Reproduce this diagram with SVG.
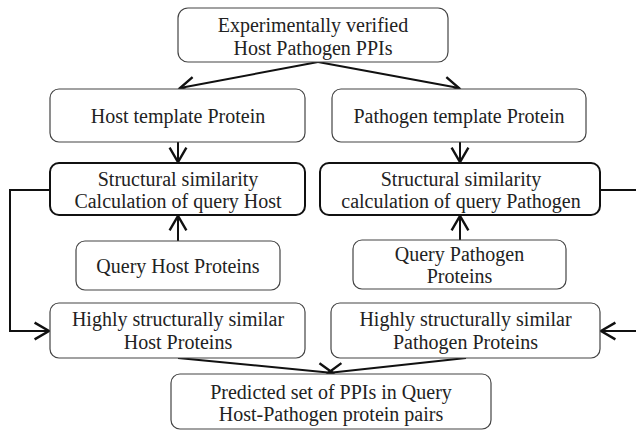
<svg xmlns="http://www.w3.org/2000/svg" width="636" height="431" viewBox="0 0 636 431">
<defs>
<style>
.box{fill:#fff;stroke:#444;stroke-width:1.2}
.bold{fill:#fff;stroke:#111;stroke-width:2}
.t{font-family:"Liberation Serif","Times New Roman",serif;font-size:20px;fill:#222;text-anchor:middle}
.c{fill:none;stroke:#111;stroke-width:2}
</style>
<marker id="ah" markerUnits="userSpaceOnUse" markerWidth="24" markerHeight="24" viewBox="-14 -10 16 20" refX="0" refY="0" orient="auto">
<path d="M-12,-7 L0,0 L-12,7" fill="none" stroke="#111" stroke-width="2"/>
</marker>
</defs>
<rect width="636" height="431" fill="#fff"/>
<g id="connectors">
<line class="c" x1="318" y1="62" x2="180" y2="88" marker-end="url(#ah)"/>
<line class="c" x1="318" y1="62" x2="459" y2="88" marker-end="url(#ah)"/>
<line class="c" x1="178" y1="142" x2="178" y2="162" marker-end="url(#ah)"/>
<line class="c" x1="460" y1="142" x2="460" y2="162" marker-end="url(#ah)"/>
<line class="c" x1="178" y1="241" x2="178" y2="216" marker-end="url(#ah)"/>
<line class="c" x1="460" y1="240" x2="460" y2="216" marker-end="url(#ah)"/>
<path class="c" d="M50,190 H10 V331 H49" marker-end="url(#ah)"/>
<path class="c" d="M600,190 H645 V331 H601" marker-end="url(#ah)"/>
<line class="c" x1="178" y1="358" x2="333" y2="373" marker-end="url(#ah)"/>
<line class="c" x1="466" y1="358" x2="328" y2="373" marker-end="url(#ah)"/>
</g>
<g id="n-top">
<rect class="box" x="178" y="8" width="270" height="54" rx="10"/>
<text class="t" x="313" y="32">Experimentally verified</text>
<text class="t" x="313" y="55">Host Pathogen PPIs</text>
</g>
<g id="n-host-template">
<rect class="box" x="50" y="89" width="255" height="53" rx="9"/>
<text class="t" x="178" y="123">Host template Protein</text>
</g>
<g id="n-pathogen-template">
<rect class="box" x="332" y="89" width="254" height="53" rx="9"/>
<text class="t" x="459" y="123">Pathogen template Protein</text>
</g>
<g id="n-struct-host">
<rect class="bold" x="50" y="163" width="255" height="52" rx="9"/>
<text class="t" x="178" y="186">Structural similarity</text>
<text class="t" x="178" y="208">Calculation of query Host</text>
</g>
<g id="n-struct-pathogen">
<rect class="bold" x="320" y="163" width="280" height="52" rx="9"/>
<text class="t" x="461" y="186">Structural similarity</text>
<text class="t" x="461" y="208">calculation of query Pathogen</text>
</g>
<g id="n-query-host">
<rect class="box" x="76" y="241" width="204" height="49" rx="9"/>
<text class="t" x="178" y="273">Query Host Proteins</text>
</g>
<g id="n-query-pathogen">
<rect class="box" x="353" y="240" width="213" height="49" rx="9"/>
<text class="t" x="459.5" y="261">Query Pathogen</text>
<text class="t" x="459.5" y="283">Proteins</text>
</g>
<g id="n-high-host">
<rect class="box" x="50" y="303" width="255" height="55" rx="9"/>
<text class="t" x="178" y="326">Highly structurally similar</text>
<text class="t" x="178" y="349">Host Proteins</text>
</g>
<g id="n-high-pathogen">
<rect class="box" x="331" y="303" width="269" height="55" rx="9"/>
<text class="t" x="465.5" y="326">Highly structurally similar</text>
<text class="t" x="465.5" y="349">Pathogen Proteins</text>
</g>
<g id="n-predicted">
<rect class="box" x="171" y="374" width="320" height="55" rx="9"/>
<text class="t" x="331" y="399">Predicted set of PPIs in Query</text>
<text class="t" x="331" y="421">Host-Pathogen protein pairs</text>
</g>
</svg>
